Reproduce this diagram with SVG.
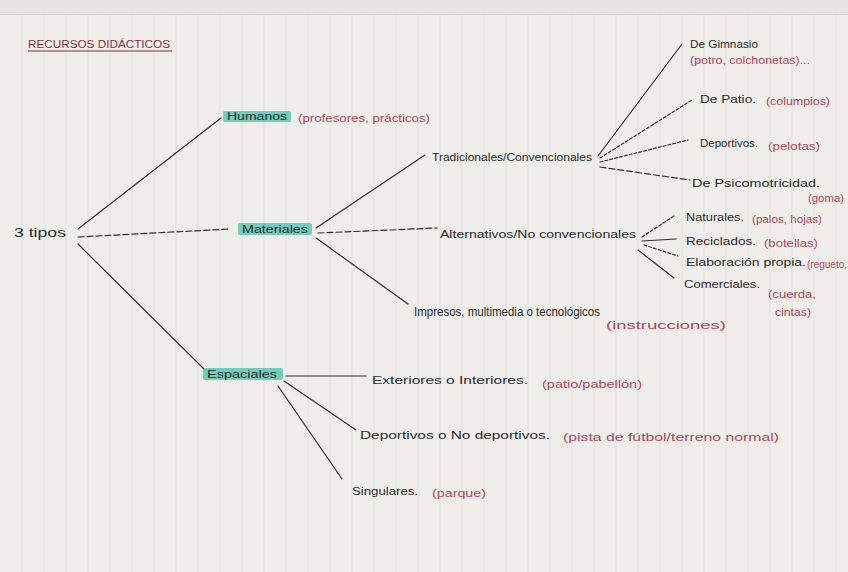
<svg xmlns="http://www.w3.org/2000/svg" width="848" height="572" viewBox="0 0 848 572">
<defs>
<style>
.t{font-family:"Liberation Sans",Arial,sans-serif;font-size:11px;fill:#2b2b2b}
.p{font-family:"Liberation Sans",Arial,sans-serif;font-size:10px;fill:#b5455f}
.hl{fill:#5cc7b2;opacity:0.85}
.c{stroke:#2f2f2f;stroke-width:1.2;fill:none;stroke-linecap:round}
.d{stroke-dasharray:6 3}
.o{stroke-dasharray:3 2}
.r{stroke:#e2e2e4;stroke-width:1}
</style>
</defs>
<rect width="848" height="572" fill="#efeeeb"/>
<rect width="848" height="14" fill="#e6e5e2"/>
<line x1="0" y1="14.5" x2="848" y2="14.5" stroke="#d6d5d2" stroke-width="1"/>
<g id="paper-lines">
<path class="r" d="M22 15V572M44 15V572M66 15V572M88 15V572M110 15V572M132 15V572M154 15V572M176 15V572M198 15V572M220 15V572M242 15V572M264 15V572M286 15V572M308 15V572M330 15V572M352 15V572M374 15V572M396 15V572M418 15V572M440 15V572M462 15V572M484 15V572M506 15V572M528 15V572M550 15V572M572 15V572M594 15V572M616 15V572M638 15V572M660 15V572M682 15V572M704 15V572M726 15V572M748 15V572M770 15V572M792 15V572M814 15V572M836 15V572"/>
</g>
<g id="title">
<text x="28" y="48" font-family="Liberation Sans,Arial,sans-serif" font-size="10" fill="#8b2b3b" textLength="142" lengthAdjust="spacingAndGlyphs">RECURSOS DIDÁCTICOS</text>
<line x1="28" y1="51" x2="172" y2="51" stroke="#8b2b3b" stroke-width="1.2"/>
</g>
<g id="connectors">
<line class="c" x1="78" y1="229" x2="221" y2="118"/>
<path class="c d" d="M78 237L230 229"/>
<line class="c" x1="78" y1="244" x2="205" y2="370"/>
<line class="c" x1="316" y1="228" x2="425" y2="155"/>
<path class="c d" d="M318 233L437 228"/>
<line class="c" x1="316" y1="238" x2="408" y2="304"/>
<line class="c" x1="598" y1="156" x2="682" y2="44"/>
<path class="c o" d="M600 158L692 100"/>
<path class="c o" d="M600 162L688 140"/>
<path class="c d" d="M600 167L690 180"/>
<path class="c o" d="M642 237L674 216"/>
<line class="c" x1="642" y1="241" x2="676" y2="239"/>
<path class="c o" d="M644 245L678 256"/>
<line class="c" x1="638" y1="250" x2="674" y2="278"/>
<line class="c" x1="286" y1="376" x2="366" y2="376"/>
<line class="c" x1="284" y1="381" x2="356" y2="430"/>
<line class="c" x1="278" y1="386" x2="342" y2="479"/>
</g>
<g id="root"><text class="t" x="14" y="237" style="font-size:13px" textLength="52" lengthAdjust="spacingAndGlyphs">3 tipos</text></g>
<g id="humanos">
<rect class="hl" x="223" y="111" width="68" height="11" rx="2"/>
<text class="t" x="227" y="120" style="font-size:10px" textLength="60" lengthAdjust="spacingAndGlyphs">Humanos</text>
<text class="p" x="298" y="122" textLength="132" lengthAdjust="spacingAndGlyphs">(profesores, prácticos)</text>
</g>
<g id="materiales">
<rect class="hl" x="238" y="223" width="74" height="12" rx="2"/>
<text class="t" x="242" y="233" style="font-size:10px" textLength="66" lengthAdjust="spacingAndGlyphs">Materiales</text>
</g>
<g id="espaciales">
<rect class="hl" x="203" y="368" width="80" height="12" rx="2"/>
<text class="t" x="207" y="378" style="font-size:10px" textLength="70" lengthAdjust="spacingAndGlyphs">Espaciales</text>
</g>
<g id="tradicionales"><text class="t" x="432" y="161" textLength="160" lengthAdjust="spacingAndGlyphs">Tradicionales/Convencionales</text></g>
<g id="alternativos"><text class="t" x="440" y="238" textLength="196" lengthAdjust="spacingAndGlyphs">Alternativos/No convencionales</text></g>
<g id="impresos">
<text class="t" x="414" y="316" style="font-size:12.5px" textLength="186" lengthAdjust="spacingAndGlyphs">Impresos, multimedia o tecnológicos</text>
<text class="p" x="606" y="329" textLength="120" lengthAdjust="spacingAndGlyphs">(instrucciones)</text>
</g>
<g id="gimnasio">
<text class="t" x="690" y="48" textLength="68" lengthAdjust="spacingAndGlyphs">De Gimnasio</text>
<text class="p" x="690" y="64" textLength="120" lengthAdjust="spacingAndGlyphs">(potro, colchonetas)...</text>
</g>
<g id="patio">
<text class="t" x="700" y="103" textLength="56" lengthAdjust="spacingAndGlyphs">De Patio.</text>
<text class="p" x="766" y="105" textLength="64" lengthAdjust="spacingAndGlyphs">(columpios)</text>
</g>
<g id="deportivos1">
<text class="t" x="700" y="147" textLength="58" lengthAdjust="spacingAndGlyphs">Deportivos.</text>
<text class="p" x="768" y="150" textLength="52" lengthAdjust="spacingAndGlyphs">(pelotas)</text>
</g>
<g id="psicomotricidad">
<text class="t" x="692" y="187" textLength="128" lengthAdjust="spacingAndGlyphs">De Psicomotricidad.</text>
<text class="p" x="808" y="202" textLength="36" lengthAdjust="spacingAndGlyphs">(goma)</text>
</g>
<g id="naturales">
<text class="t" x="686" y="221" textLength="58" lengthAdjust="spacingAndGlyphs">Naturales.</text>
<text class="p" x="752" y="223" textLength="70" lengthAdjust="spacingAndGlyphs">(palos, hojas)</text>
</g>
<g id="reciclados">
<text class="t" x="686" y="245" textLength="70" lengthAdjust="spacingAndGlyphs">Reciclados.</text>
<text class="p" x="764" y="247" textLength="54" lengthAdjust="spacingAndGlyphs">(botellas)</text>
</g>
<g id="elaboracion">
<text class="t" x="686" y="266" textLength="120" lengthAdjust="spacingAndGlyphs">Elaboración propia.</text>
<text class="p" x="807" y="268">(regueto,</text>
</g>
<g id="comerciales">
<text class="t" x="684" y="288" textLength="76" lengthAdjust="spacingAndGlyphs">Comerciales.</text>
<text class="p" x="768" y="298" textLength="48" lengthAdjust="spacingAndGlyphs">(cuerda,</text>
<text class="p" x="775" y="316" textLength="36" lengthAdjust="spacingAndGlyphs">cintas)</text>
</g>
<g id="exteriores">
<text class="t" x="372" y="384" textLength="156" lengthAdjust="spacingAndGlyphs">Exteriores o Interiores.</text>
<text class="p" x="542" y="388" textLength="100" lengthAdjust="spacingAndGlyphs">(patio/pabellón)</text>
</g>
<g id="deportivos2">
<text class="t" x="360" y="439" textLength="190" lengthAdjust="spacingAndGlyphs">Deportivos o No deportivos.</text>
<text class="p" x="563" y="441" textLength="216" lengthAdjust="spacingAndGlyphs">(pista de fútbol/terreno normal)</text>
</g>
<g id="singulares">
<text class="t" x="352" y="495" textLength="66" lengthAdjust="spacingAndGlyphs">Singulares.</text>
<text class="p" x="432" y="497" textLength="54" lengthAdjust="spacingAndGlyphs">(parque)</text>
</g>
</svg>
